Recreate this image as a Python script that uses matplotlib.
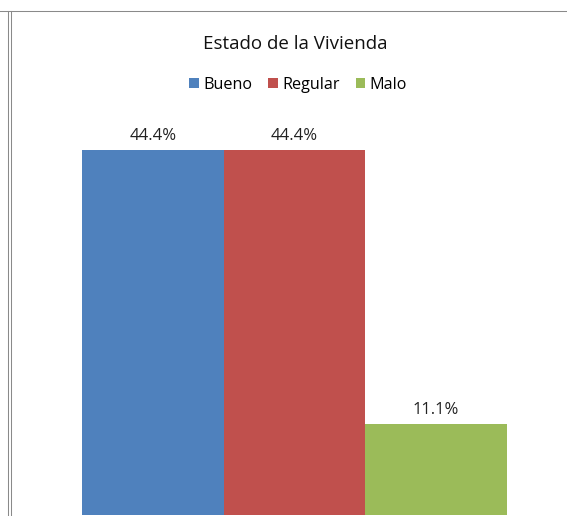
import matplotlib.pyplot as plt
from matplotlib.lines import Line2D
from matplotlib.patches import Patch

categories = ["Bueno", "Regular", "Malo"]
values = [44.4, 44.4, 11.1]
colors = ["#4F81BD", "#C0504D", "#9BBB59"]

W, H = 567, 516
plt.rcParams["font.family"] = ["Open Sans", "DejaVu Sans"]

fig = plt.figure(figsize=(W / 100, H / 100), dpi=100)

# axes placed in pixel terms: bottom at y=515, top at y=100, x from 82 to 507
ax = fig.add_axes([82 / W, 1 - 515 / H, 425 / W, 415 / H])
x = range(len(categories))
bars = ax.bar(x, values, width=1.0, color=colors)
ax.set_xlim(-0.5, 2.5)
ax.set_ylim(0, 415 / (365 / 44.4))
ax.axis("off")
ax.bar_label(bars, labels=[f"{v:.1f}%" for v in values], padding=4,
             fontsize=12, color="#222222")

fig.text(295 / W, 1 - 44 / H, "Estado de la Vivienda", ha="center", va="center",
         fontsize=13.5, color="#111111")

handles = [Patch(facecolor=c, edgecolor="none") for c in colors]
fig.legend(handles, categories, loc="center", bbox_to_anchor=(298 / W, 1 - 85 / H),
           ncol=3, frameon=False, fontsize=11.6, handlelength=0.6, handleheight=0.6,
           handletextpad=0.25, columnspacing=1.0)

# outer frame lines
gray = "#8a8a8a"
def px_line(x0, y0, x1, y1):
    fig.add_artist(Line2D([x0 / W, x1 / W], [1 - y0 / H, 1 - y1 / H],
                          transform=fig.transFigure, color=gray, lw=0.75))

px_line(0, 11, W, 11)
px_line(8.3, 11, 8.3, H)
px_line(10.5, 11, 10.5, H)

fig.savefig("out.png", dpi=100)
